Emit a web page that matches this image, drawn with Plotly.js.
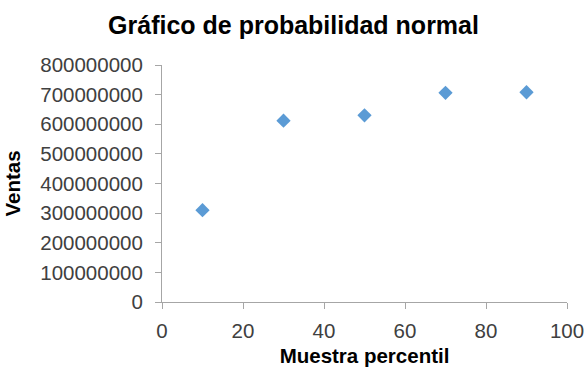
<!DOCTYPE html>
<html>
<head>
<meta charset="utf-8">
<script src="https://cdn.plot.ly/plotly-3.0.1.min.js"></script>
<style>html,body{margin:0;padding:0;background:#fff;}#chart{width:587px;height:367px;}</style>
</head>
<body>
<div id="chart"></div>
<script>
const percentiles = [10, 30, 50, 70, 90];
const ventas = [310000000, 612000000, 630000000, 706000000, 708000000];
const chartTitle = "Gráfico de probabilidad normal";
const xTitle = "Muestra percentil";
const yTitle = "Ventas";

const axisColor = "#a6a6a6";
const tickFont = {family: "Liberation Sans, Arial, sans-serif", size: 20.5, color: "#404040"};
const titleFont = {family: "Liberation Sans, Arial, sans-serif", size: 20.5, color: "#000"};

Plotly.newPlot("chart", [{
  type: "scatter",
  mode: "markers",
  x: percentiles,
  y: ventas,
  marker: {symbol: "diamond", size: 11, color: "#5b9bd5"},
  hoverinfo: "x+y"
}], {
  width: 587, height: 367,
  margin: {l: 162, r: 20, t: 65, b: 65, pad: 0},
  paper_bgcolor: "#fff", plot_bgcolor: "#fff",
  showlegend: false,
  title: {text: "<b>" + chartTitle + "</b>", x: 0.5, xanchor: "center", yref: "container", y: 0.93, yanchor: "middle",
          font: {family: "Liberation Sans, Arial, sans-serif", size: 25, color: "#000"}},
  xaxis: {
    range: [0, 100], dtick: 20, tick0: 0, showgrid: false, zeroline: false,
    showline: true, linecolor: axisColor, linewidth: 1,
    ticks: "outside", ticklen: 6, tickcolor: axisColor, tickwidth: 1,
    tickfont: tickFont, ticklabelstandoff: 4,
    title: {text: "<b>" + xTitle + "</b>", font: titleFont, standoff: 9}
  },
  yaxis: {
    range: [0, 800000000], dtick: 100000000, tick0: 0, tickformat: "d",
    showgrid: false, zeroline: false,
    showline: true, linecolor: axisColor, linewidth: 1,
    ticks: "outside", ticklen: 6, tickcolor: axisColor, tickwidth: 1,
    tickfont: tickFont, ticklabelstandoff: 8,
    title: {text: "<b>" + yTitle + "</b>", font: titleFont, standoff: 14}
  }
}, {displayModeBar: false, staticPlot: true});
</script>
</body>
</html>
